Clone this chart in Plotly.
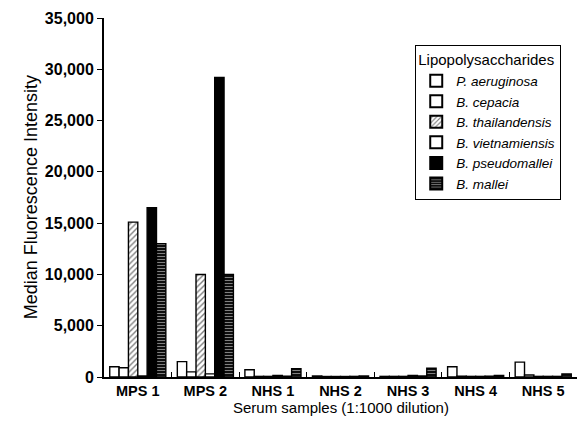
import plotly.graph_objects as go

categories = ["MPS 1", "MPS 2", "NHS 1", "NHS 2", "NHS 3", "NHS 4", "NHS 5"]
p_aeruginosa = [1000, 1500, 700, 100, 60, 1000, 1450]
b_cepacia = [900, 500, 60, 50, 60, 80, 200]
b_thailandensis = [15100, 10000, 60, 50, 60, 60, 60]
b_vietnamiensis = [100, 300, 150, 50, 150, 60, 60]
b_pseudomallei = [16500, 29200, 80, 60, 100, 80, 60]
b_mallei = [13000, 10000, 800, 100, 850, 150, 300]

series = [
    ("P. aeruginosa", p_aeruginosa, dict(color="white")),
    ("B. cepacia", b_cepacia, dict(color="white")),
    ("B. thailandensis", b_thailandensis,
     dict(color="white", pattern=dict(shape="/", fgcolor="black", bgcolor="white", size=4, solidity=0.35))),
    ("B. vietnamiensis", b_vietnamiensis, dict(color="white")),
    ("B. pseudomallei", b_pseudomallei, dict(color="black")),
    ("B. mallei", b_mallei,
     dict(color="black", pattern=dict(shape="-", fgcolor="white", bgcolor="black", size=3, solidity=0.4))),
]

fig = go.Figure()
for name, vals, mk in series:
    mk = dict(mk)
    mk["line"] = dict(color="black", width=1.4)
    fig.add_trace(go.Bar(x=categories, y=vals, name=name, marker=mk))

font_family = "Liberation Sans, Arial, sans-serif"
fig.update_layout(
    width=587, height=435,
    margin=dict(l=96, r=18, t=10, b=66),
    plot_bgcolor="white", paper_bgcolor="white",
    barmode="group", bargap=0.17, bargroupgap=0,
    font=dict(family=font_family, size=13, color="black"),
    showlegend=True,
    legend=dict(
        x=0.658, y=0.925, xanchor="left", yanchor="top",
        bgcolor="white", bordercolor="black", borderwidth=1,
        font=dict(family=font_family, size=13.5, style="italic"),
        title=dict(text="Lipopolysaccharides", font=dict(family=font_family, size=15, style="normal")),
        tracegroupgap=0, itemsizing="constant", itemwidth=30,
    ),
    xaxis=dict(
        automargin=False,
        showline=True, linecolor="black", linewidth=2,
        ticks="inside", tickson="boundaries", ticklen=5, tickcolor="black",
        tickfont=dict(size=14.5, weight="bold"),
        showgrid=False,
    ),
    yaxis=dict(
        automargin=False,
        range=[0, 35000], tickvals=[0, 5000, 10000, 15000, 20000, 25000, 30000, 35000],
        tickformat=",d", showline=True, linecolor="black", linewidth=2,
        ticks="outside", ticklen=5, tickcolor="black",
        tickfont=dict(size=16, weight="bold"),
        showgrid=False, zeroline=False,
    ),
    annotations=[
        dict(text="Serum samples (1:1000 dilution)", xref="paper", yref="paper",
             x=0.5, y=-0.085, xanchor="center", yanchor="middle", showarrow=False,
             font=dict(size=15)),
        dict(text="Median Fluorescence Intensity", xref="paper", yref="paper",
             x=-0.155, y=0.5, xanchor="center", yanchor="middle", showarrow=False,
             textangle=-90, font=dict(size=18)),
    ],
)

fig.write_html("out.html")
